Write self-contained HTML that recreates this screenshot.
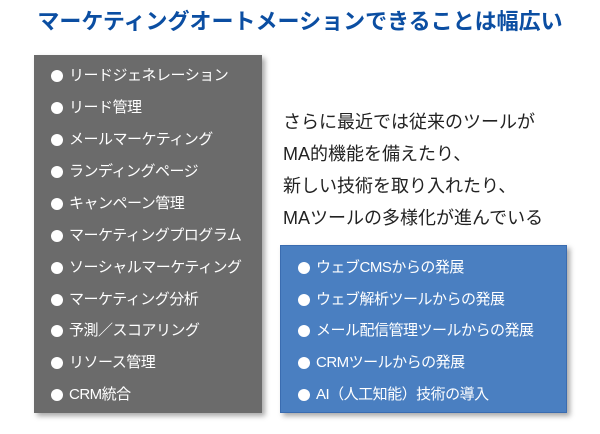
<!DOCTYPE html>
<html><head><meta charset="utf-8"><style>
body{margin:0;width:600px;height:434px;background:#fff;position:relative;overflow:hidden;font-family:"Liberation Sans","Noto Sans CJK JP",sans-serif}
.t{position:absolute;left:0;width:600px;top:8px;text-align:center;font-size:22px;font-weight:bold;color:#0b4ea2;line-height:28px}
.box{position:absolute;box-shadow:3px 3px 5px rgba(0,0,0,.35)}
.g{left:34px;top:55px;width:228px;height:358px;background:#6b6b6b}
.b{left:280px;top:245px;width:287px;height:168px;background:#4a7fc1;border:1px solid #3a6cb0;box-sizing:border-box}
.i{position:absolute;color:#fff;font-size:15px;line-height:20px;white-space:nowrap;letter-spacing:-0.5px}
.i::before{content:"";position:absolute;left:-18px;top:4px;width:12px;height:12px;border-radius:50%;background:#fff}
.p{position:absolute;left:283px;top:106px;font-size:18px;line-height:32px;color:#222}
</style></head><body>
<div class="t">マーケティングオートメーションできることは幅広い</div>
<div class="box g"></div>
<div class="box b"></div>
<div class="i" style="left:69px;top:66px">リードジェネレーション</div>
<div class="i" style="left:69px;top:98px">リード管理</div>
<div class="i" style="left:69px;top:130px">メールマーケティング</div>
<div class="i" style="left:69px;top:162px">ランディングページ</div>
<div class="i" style="left:69px;top:194px">キャンペーン管理</div>
<div class="i" style="left:69px;top:226px">マーケティングプログラム</div>
<div class="i" style="left:69px;top:258px">ソーシャルマーケティング</div>
<div class="i" style="left:69px;top:290px">マーケティング分析</div>
<div class="i" style="left:69px;top:321px">予測／スコアリング</div>
<div class="i" style="left:69px;top:353px">リソース管理</div>
<div class="i" style="left:69px;top:385px">CRM統合</div>
<div class="p">さらに最近では従来のツールが<br>MA的機能を備えたり、<br>新しい技術を取り入れたり、<br>MAツールの多様化が進んでいる</div>
<div class="i" style="left:316px;top:258px">ウェブCMSからの発展</div>
<div class="i" style="left:316px;top:290px">ウェブ解析ツールからの発展</div>
<div class="i" style="left:316px;top:321px">メール配信管理ツールからの発展</div>
<div class="i" style="left:316px;top:353px">CRMツールからの発展</div>
<div class="i" style="left:316px;top:385px">AI（人工知能）技術の導入</div>
</body></html>
